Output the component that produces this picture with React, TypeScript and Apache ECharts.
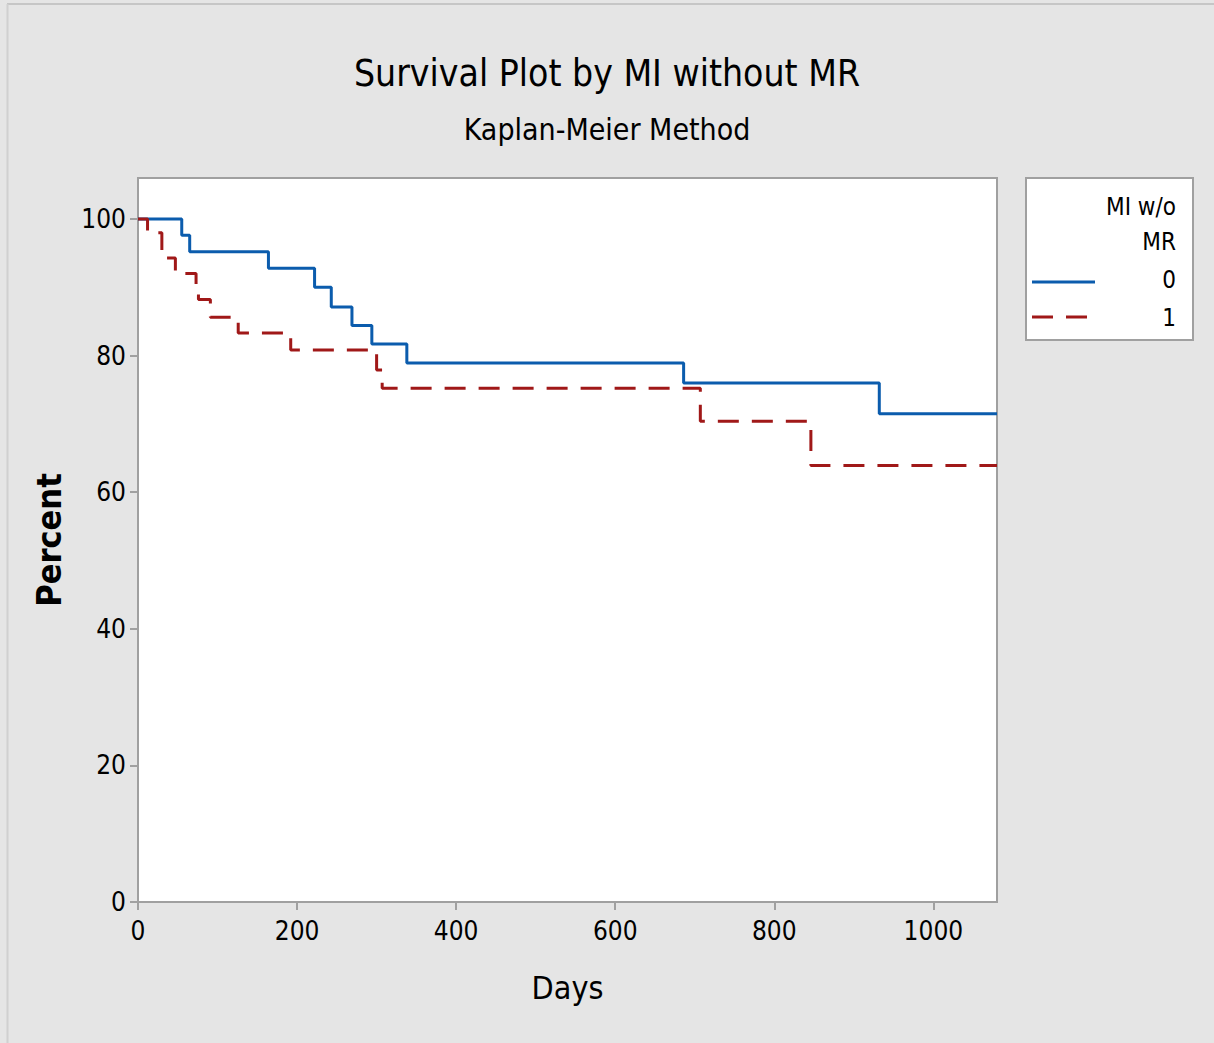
import React, { useEffect, useRef } from "react";
import * as echarts from "echarts";

const titleText = "Survival Plot by MI without MR";
const subtitleText = "Kaplan-Meier Method";
const xTicks = [0, 200, 400, 600, 800, 1000];
const yTicks = [0, 20, 40, 60, 80, 100];
const group0Days = [0, 55, 65, 164, 222, 243, 269, 294, 338, 686, 932, 1080];
const group0Pct = [100, 97.6, 95.2, 92.8, 90.0, 87.1, 84.4, 81.7, 78.9, 76.0, 71.5, 71.5];
const group1Days = [0, 12, 30, 47, 73, 76, 91, 126, 192, 300, 307, 707, 846, 1080];
const group1Pct = [100, 98.0, 94.3, 92.0, 90.0, 88.2, 85.6, 83.3, 80.8, 77.9, 75.2, 70.4, 63.9, 63.9];
const legendTitle = ["MI w/o", "MR"];
const legendNames = ["0", "1"];

const FONT = "'DejaVu Sans Condensed', 'Noto Sans', sans-serif";
const BLUE = "#0b5cad";
const RED = "#a01818";

export default function App() {
  const ref = useRef<HTMLDivElement>(null);
  useEffect(() => {
    document.body.style.margin = "0";
    if (!ref.current) return;
    const chart = echarts.init(ref.current, undefined, { renderer: "svg" });
    const d0 = group0Days.map((d, i) => [d, group0Pct[i]]);
    const d1 = group1Days.map((d, i) => [d, group1Pct[i]]);
    chart.setOption({
      animation: false,
      backgroundColor: "#e5e5e5",
      textStyle: { fontFamily: FONT },
      title: [
        { text: titleText, left: "center", top: 50, textStyle: { fontFamily: FONT, fontSize: 37, fontWeight: "normal", color: "#000" } },
        { text: subtitleText, left: "center", top: 109, textStyle: { fontFamily: FONT, fontSize: 30, fontWeight: "normal", color: "#000" } },
      ],
      grid: { left: 138, top: 178, width: 859, height: 724, show: true, backgroundColor: "#fff", borderColor: "#a0a0a0", borderWidth: 2 },
      xAxis: {
        type: "value", min: 0, max: 1080,
        name: "Days", nameLocation: "middle", nameGap: 70,
        nameTextStyle: { fontFamily: FONT, fontSize: 32, color: "#000" },
        axisLine: { show: false },
        axisTick: { show: true, length: 8, customValues: xTicks, lineStyle: { color: "#a0a0a0", width: 2 } },
        axisLabel: { fontFamily: FONT, fontSize: 26, color: "#000", margin: 16, customValues: xTicks, formatter: (v: number) => String(v) },
        splitLine: { show: false },
      },
      yAxis: {
        type: "value", min: 0, max: 106,
        name: "Percent", nameLocation: "middle", nameGap: 72,
        nameTextStyle: { fontFamily: FONT, fontSize: 34, fontWeight: "bold", color: "#000" },
        axisLine: { show: false },
        axisTick: { show: true, length: 8, customValues: yTicks, lineStyle: { color: "#a0a0a0", width: 2 } },
        axisLabel: { fontFamily: FONT, fontSize: 26, color: "#000", margin: 12, customValues: yTicks, formatter: (v: number) => String(v) },
        splitLine: { show: false },
      },
      graphic: [
        { type: "line", shape: { x1: 7, y1: 4, x2: 1214, y2: 4 }, style: { stroke: "#c6c6c6", lineWidth: 2 } },
        { type: "line", shape: { x1: 7.5, y1: 4, x2: 7.5, y2: 1043 }, style: { stroke: "#d0d0d0", lineWidth: 2 } },
        { type: "rect", shape: { x: 1026, y: 178, width: 167, height: 162 }, style: { fill: "#fff", stroke: "#a0a0a0", lineWidth: 2 }, z: -1 },
        { type: "text", x: 1176, y: 207, style: { text: legendTitle[0], align: "right", verticalAlign: "middle", font: `24px ${FONT}`, fill: "#000" } },
        { type: "text", x: 1176, y: 242, style: { text: legendTitle[1], align: "right", verticalAlign: "middle", font: `24px ${FONT}`, fill: "#000" } },
        { type: "line", shape: { x1: 1032, y1: 282, x2: 1095, y2: 282 }, style: { stroke: BLUE, lineWidth: 3 } },
        { type: "text", x: 1176, y: 280, style: { text: legendNames[0], align: "right", verticalAlign: "middle", font: `24px ${FONT}`, fill: "#000" } },
        { type: "line", shape: { x1: 1032, y1: 317, x2: 1088, y2: 317 }, style: { stroke: RED, lineWidth: 3, lineDash: [21, 13] } },
        { type: "text", x: 1176, y: 318, style: { text: legendNames[1], align: "right", verticalAlign: "middle", font: `24px ${FONT}`, fill: "#000" } },
      ],
      series: [
        { name: legendNames[0], type: "line", step: "end", data: d0, showSymbol: false, symbol: "none", lineStyle: { color: BLUE, width: 3 }, itemStyle: { color: BLUE } },
        { name: legendNames[1], type: "line", step: "end", data: d1, showSymbol: false, symbol: "none", lineStyle: { color: RED, width: 3, type: [21, 13] }, itemStyle: { color: RED } },
      ],
    });
    return () => chart.dispose();
  }, []);
  return <div ref={ref} style={{ width: 1214, height: 1043 }} />;
}
